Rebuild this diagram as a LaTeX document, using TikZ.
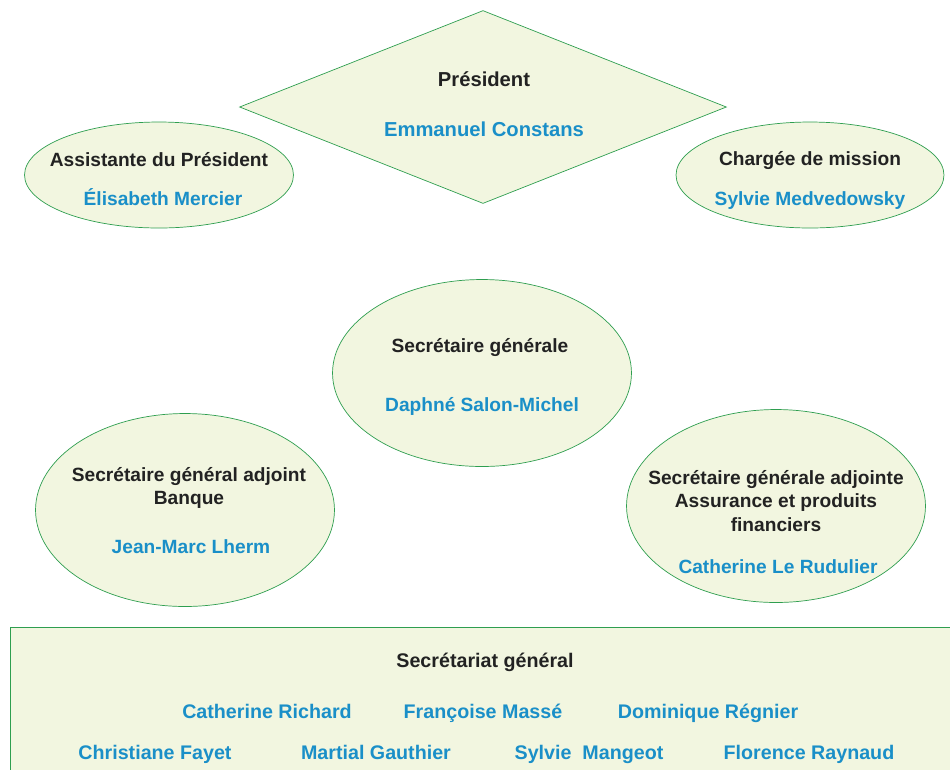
\documentclass[tikz,border=0pt]{standalone}
\usepackage{fontspec}
\setmainfont{Liberation Sans}
\usetikzlibrary{shapes.geometric}

\definecolor{fondvert}{HTML}{F2F6E0}
\definecolor{traitvert}{HTML}{2E9E4F}
\definecolor{nomsbleu}{HTML}{1A8FC8}
\definecolor{titrenoir}{HTML}{222222}

\tikzset{
  bulle/.style={ellipse, draw=traitvert, fill=fondvert, inner sep=0pt},
  titre/.style={text=titrenoir, font=\bfseries\fontsize{10.9}{13.2}\selectfont, align=center},
  nom/.style={text=nomsbleu, font=\bfseries\fontsize{10.9}{13.2}\selectfont, text height=1.9ex, text depth=0.2ex},
  equipe/.style={text=nomsbleu, font=\bfseries\fontsize{11.2}{13.5}\selectfont, text height=1.9ex, text depth=0.2ex}
}

\begin{document}
\begin{tikzpicture}[x=0.02cm, y=-0.02cm]
			\useasboundingbox (0,0) rectangle (950,769);
			% president
			\node[diamond, draw=traitvert, fill=fondvert, inner sep=0pt, aspect=2.52, minimum width=9.74cm, minimum height=3.86cm] (president) at (483,107) {};
			\node[titre, font=\bfseries\fontsize{11.5}{14}\selectfont] (presidentT) at (484,79) {Président};
			\node[nom, font=\bfseries\fontsize{11.5}{14}\selectfont] (presidentN) at (484,129) {Emmanuel Constans};
			% assistante et mission
			\node[bulle, minimum width=5.38cm, minimum height=2.12cm] (assistante) at (159,175) {};
			\node[titre] (assistanteT) at (159,160) {Assistante du Président};
			\node[nom] (assistanteN) at (163,198) {Élisabeth Mercier};
			\node[bulle, minimum width=5.36cm, minimum height=2.12cm] (mission) at (810,175) {};
			\node[titre] (missionT) at (810,160) {Chargée de mission};
			\node[nom] (missionN) at (810,198) {Sylvie Medvedowsky};
			% secretaire generale
			\node[bulle, minimum width=5.98cm, minimum height=3.74cm] (sg) at (482,373) {};
			\node[titre] (sgT) at (480,347) {Secrétaire générale};
			\node[nom] (sgN) at (482,404) {Daphné Salon-Michel};
			% adjoints
			\node[bulle, minimum width=5.98cm, minimum height=3.86cm] (banque) at (185,510) {};
			\node[titre] (banqueT) at (189,488) {Secrétaire général adjoint\\Banque};
			\node[nom] (banqueN) at (191,546) {Jean-Marc Lherm};
			\node[bulle, minimum width=5.98cm, minimum height=3.86cm] (assurance) at (776,506) {};
			\node[titre] (assuranceT) at (776,501) {Secrétaire générale adjointe\\Assurance et produits\\financiers};
			\node[nom] (assuranceN) at (778,566) {Catherine Le Rudulier};
			% secretariat
			\draw[draw=traitvert, fill=fondvert] (10,627) rectangle (965,785);
			\node[titre, font=\bfseries\fontsize{11.2}{13.5}\selectfont] (secretariat) at (485,662) {Secrétariat général};
			\node[equipe] (richard) at (267,711) {Catherine Richard};
			\node[equipe] (masse) at (483,711) {Françoise Massé};
			\node[equipe] (regnier) at (708,711) {Dominique Régnier};
			\node[equipe] (fayet) at (155,752) {Christiane Fayet};
			\node[equipe] (gauthier) at (376,752) {Martial Gauthier};
			\node[equipe] (mangeot) at (589,752) {Sylvie\ \ Mangeot};
			\node[equipe] (raynaud) at (809,752) {Florence Raynaud};
		\end{tikzpicture}
\end{document}
